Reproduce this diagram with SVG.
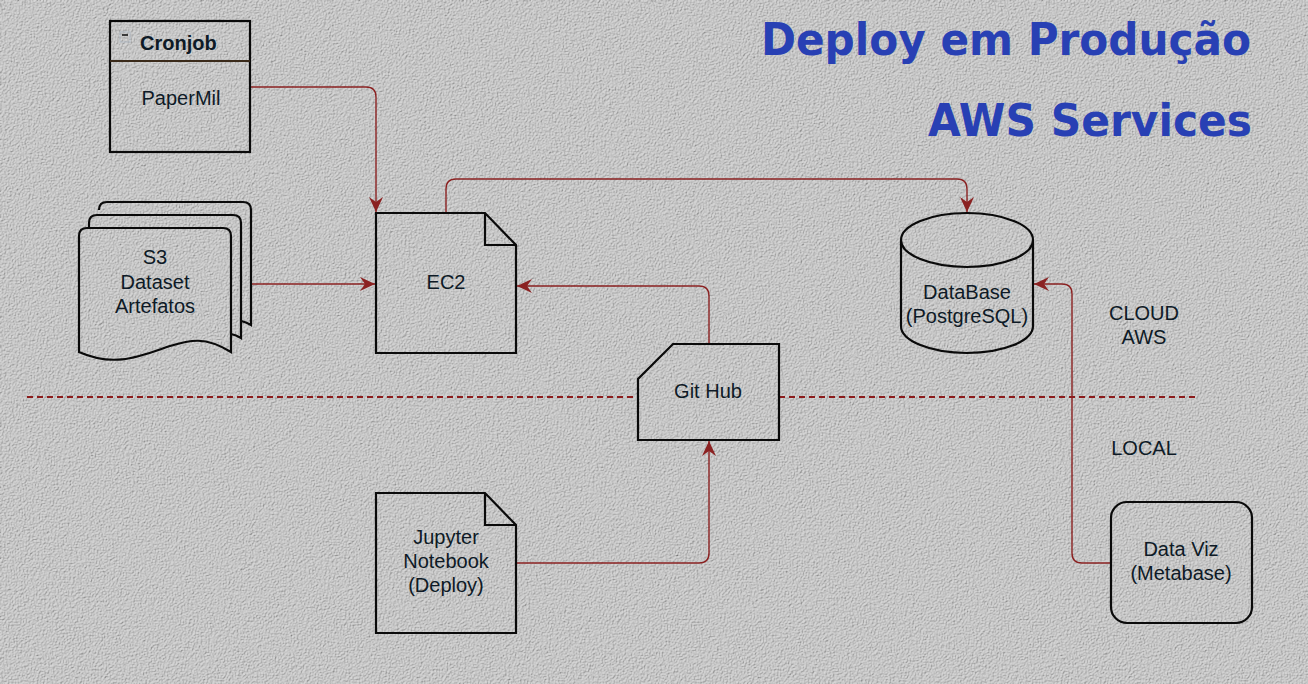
<svg xmlns="http://www.w3.org/2000/svg" width="1308" height="684" viewBox="0 0 1308 684">
<style>
.shape{fill:none;stroke:#0a0a0a;stroke-width:2.2;stroke-linejoin:miter}
.lbl{font-family:"Liberation Sans",Arial,sans-serif;font-size:20px;fill:#0e1a26;text-anchor:middle}
.edge{fill:none;stroke:#8b2222;stroke-width:1.4}
.title{font-family:"DejaVu Sans",Verdana,sans-serif;font-weight:bold;font-size:44px;fill:#2840b4;text-anchor:end}
</style>
<defs>
<filter id="tex" x="0" y="0" width="100%" height="100%">
<feTurbulence type="fractalNoise" baseFrequency="0.75" numOctaves="2" seed="7" result="n"/>
<feDiffuseLighting in="n" surfaceScale="1.8" diffuseConstant="1" lighting-color="#dcdcdc">
<feDistantLight azimuth="225" elevation="55"/>
</feDiffuseLighting>
</filter>
<marker id="arr" markerUnits="userSpaceOnUse" markerWidth="16" markerHeight="14" viewBox="0 0 16 14" refX="15" refY="7" orient="auto">
<path d="M0,0 L15,7 L0,14 L5,7 Z" fill="#8b2222"/>
</marker>
</defs>
<rect width="1308" height="684" fill="#b6b6b6"/>
<rect width="1308" height="684" filter="url(#tex)" opacity="0.9"/>

<g id="titles">
<text class="title" x="1251" y="55" textLength="490" lengthAdjust="spacingAndGlyphs">Deploy em Produção</text>
<text class="title" x="1252" y="136" textLength="324" lengthAdjust="spacingAndGlyphs">AWS Services</text>
</g>

<g id="zones">
<path d="M27,397 H638 M779,397 H1197" fill="none" stroke="#8b1c1c" stroke-width="2" stroke-dasharray="6 4"/>
<text class="lbl" x="1144" y="320">CLOUD</text>
<text class="lbl" x="1144" y="344">AWS</text>
<text class="lbl" x="1144" y="455">LOCAL</text>
</g>

<g id="connectors">
<path class="edge" d="M250,87 H366 Q376,87 376,97 V212" marker-end="url(#arr)"/>
<path class="edge" d="M250,284 H375" marker-end="url(#arr)"/>
<path class="edge" d="M446,213 V189 Q446,179 456,179 H957 Q967,179 967,189 V212" marker-end="url(#arr)"/>
<path class="edge" d="M709,344 V296 Q709,286 699,286 H517" marker-end="url(#arr)"/>
<path class="edge" d="M516,563 H699 Q709,563 709,553 V441" marker-end="url(#arr)"/>
<path class="edge" d="M1111,563 H1082 Q1072,563 1072,553 V294 Q1072,284 1062,284 H1034" marker-end="url(#arr)"/>
</g>

<g id="cronjob">
<rect class="shape" x="110" y="21" width="140" height="131"/>
<line x1="110" y1="61" x2="250" y2="61" stroke="#3a2a1a" stroke-width="2"/>
<rect x="120" y="32" width="10" height="10" fill="none" stroke="#9fb0c0" stroke-width="0.8" opacity="0.7"/>
<line x1="122" y1="35" x2="128" y2="35" stroke="#0a0a0a" stroke-width="1.5"/>
<text x="140" y="50" font-family="Liberation Sans,Arial,sans-serif" font-weight="bold" font-size="20" fill="#0e1a26">Cronjob</text>
<text class="lbl" x="181" y="105">PaperMil</text>
</g>

<g id="s3">
<path class="shape" d="M99,210 Q99,202 107,202 L243,202 Q251,202 251,210 L251,325 Q246,322 241,321"/>
<path class="shape" d="M89,228 L89,223 Q89,215 97,215 L233,215 Q241,215 241,223 L241,338 Q236,335 231,334"/>
<path class="shape" d="M79,236 Q79,228 87,228 L223,228 Q231,228 231,236 L231,352 C205,336 190,340 170,346 C140,356 115,368 79,352 Z"/>
<text class="lbl" x="155" y="264">S3</text>
<text class="lbl" x="155" y="289">Dataset</text>
<text class="lbl" x="155" y="313">Artefatos</text>
</g>

<g id="ec2">
<path class="shape" d="M376,213 H485 L516,245 V353 H376 Z M485,213 V245 H516"/>
<text class="lbl" x="446" y="289">EC2</text>
</g>

<g id="database">
<path class="shape" d="M901,240 A66,27 0 0 1 1033,240 V326 A66,27 0 0 1 901,326 Z M901,240 A66,27 0 0 0 1033,240"/>
<text class="lbl" x="967" y="299">DataBase</text>
<text class="lbl" x="967" y="323">(PostgreSQL)</text>
</g>

<g id="github">
<path class="shape" d="M673,344 H779 V440 H638 V379 Z"/>
<text class="lbl" x="708" y="398">Git Hub</text>
</g>

<g id="jupyter">
<path class="shape" d="M376,493 H485 L516,525 V633 H376 Z M485,493 V525 H516"/>
<text class="lbl" x="446" y="544">Jupyter</text>
<text class="lbl" x="446" y="568">Notebook</text>
<text class="lbl" x="446" y="592">(Deploy)</text>
</g>

<g id="dataviz">
<rect class="shape" x="1111" y="502" width="141" height="121" rx="16"/>
<text class="lbl" x="1181" y="556">Data Viz</text>
<text class="lbl" x="1181" y="580">(Metabase)</text>
</g>
</svg>
